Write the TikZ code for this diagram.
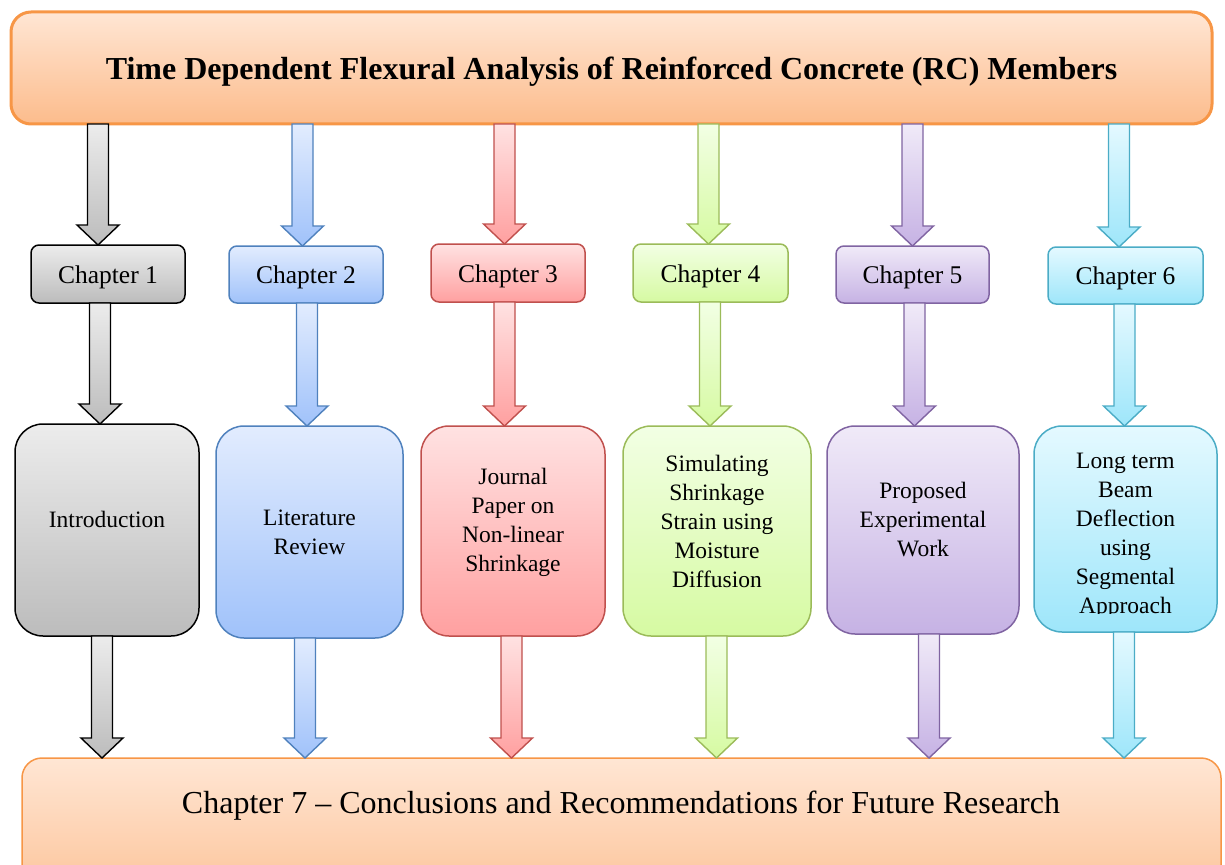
\documentclass[tikz,border=0pt]{standalone}
\usepackage{fontspec}
\setmainfont{Liberation Serif}
\usetikzlibrary{calc}
\definecolor{grayT}{RGB}{236,236,236}\definecolor{grayB}{RGB}{188,188,188}\definecolor{grayD}{RGB}{0,0,0}
\definecolor{blueT}{RGB}{226,236,254}\definecolor{blueB}{RGB}{160,194,250}\definecolor{blueD}{RGB}{79,129,189}
\definecolor{redT}{RGB}{255,226,226}\definecolor{redB}{RGB}{255,160,160}\definecolor{redD}{RGB}{192,80,77}
\definecolor{greenT}{RGB}{242,255,228}\definecolor{greenB}{RGB}{214,250,162}\definecolor{greenD}{RGB}{155,187,89}
\definecolor{purpT}{RGB}{240,234,248}\definecolor{purpB}{RGB}{198,178,228}\definecolor{purpD}{RGB}{128,100,162}
\definecolor{cyanT}{RGB}{228,249,255}\definecolor{cyanB}{RGB}{158,230,250}\definecolor{cyanD}{RGB}{75,172,198}
\definecolor{orT}{RGB}{255,230,212}\definecolor{orB}{RGB}{252,188,140}\definecolor{orD}{RGB}{247,150,70}
\tikzset{
  box/.style={draw, rectangle, anchor=north west, inner sep=0pt, outer sep=0pt, line width=1.5pt},
  chapbox/.style={box, rounded corners=8pt, font=\fontsize{25.5}{30}\selectfont, text height=18pt, text depth=0pt},
  bigbox/.style={box, rounded corners=28pt},
  bigtext/.style={align=center, font=\fontsize{23.5}{29}\selectfont, inner sep=0pt},
  sgray/.style={draw=grayD, top color=grayT, bottom color=grayB},
  sblue/.style={draw=blueD, top color=blueT, bottom color=blueB},
  sred/.style={draw=redD, top color=redT, bottom color=redB},
  sgreen/.style={draw=greenD, top color=greenT, bottom color=greenB},
  spurp/.style={draw=purpD, top color=purpT, bottom color=purpB},
  scyan/.style={draw=cyanD, top color=cyanT, bottom color=cyanB},
  sorange/.style={draw=orD, top color=orT, bottom color=orB},
}
\newcommand{\blockarrow}[4]{%
  \path[#1, line width=1.4pt, line join=miter] let \p1=(#3), \p2=(#4) in
    ({(#2-10.5)*1pt},\y1) -- ({(#2+10.5)*1pt},\y1) -- ({(#2+10.5)*1pt},{\y2+20pt})
    -- ({(#2+21)*1pt},{\y2+20pt}) -- ({#2*1pt},\y2) -- ({(#2-21)*1pt},{\y2+20pt})
    -- ({(#2-10.5)*1pt},{\y2+20pt}) -- cycle;}
\begin{document}
\begin{tikzpicture}[x=1pt,y=1pt]
\useasboundingbox (0,0) rectangle (1225,-864);
% title
\node[box, sorange, line width=3pt, rounded corners=20pt, minimum width=1201pt, minimum height=112pt,
  font=\fontsize{32}{38}\selectfont\bfseries] (title) at (11,-12)
  {\raisebox{-4pt}[\height][\depth]{Time Dependent Flexural Analysis of Reinforced Concrete (RC) Members}};
% bottom box
\node[box, sorange, rounded corners=20pt, minimum width=1199pt, minimum height=170pt] (bottom) at (22,-758) {};
\node[font=\fontsize{32}{38}\selectfont, inner sep=0pt] (bottomtext) at (621,-806)
  {Chapter 7 – Conclusions and Recommendations for Future Research};
% chapter boxes
\node[chapbox, sgray,  minimum width=154pt, minimum height=58pt] (c1) at (31,-245) {Chapter 1};
\node[chapbox, sblue,  minimum width=154pt, minimum height=57pt] (c2) at (229,-246) {Chapter 2};
\node[chapbox, sred,   minimum width=154pt, minimum height=58pt] (c3) at (431,-244) {Chapter 3};
\node[chapbox, sgreen, minimum width=155pt, minimum height=58pt] (c4) at (633,-244) {Chapter 4};
\node[chapbox, spurp,  minimum width=153pt, minimum height=57pt] (c5) at (836,-246) {Chapter 5};
\node[chapbox, scyan,  minimum width=155pt, minimum height=57pt] (c6) at (1048,-247) {Chapter 6};
% big boxes
\node[bigbox, sgray,  minimum width=184pt, minimum height=212pt] (b1) at (15,-424) {};
\node[bigbox, sblue,  minimum width=187pt, minimum height=212pt] (b2) at (216,-426) {};
\node[bigbox, sred,   minimum width=184pt, minimum height=210pt] (b3) at (421,-426) {};
\node[bigbox, sgreen, minimum width=188pt, minimum height=210pt] (b4) at (623,-426) {};
\node[bigbox, spurp,  minimum width=192pt, minimum height=208pt] (b5) at (827,-426) {};
\node[bigbox, scyan,  minimum width=183pt, minimum height=206pt] (b6) at (1034,-426) {};
\node[bigtext] (t1) at ([yshift=11pt]b1.center) {Introduction};
\node[bigtext] (t2) at ([yshift=0pt]b2.center) {Literature\\Review};
\node[bigtext] (t3) at ([yshift=9pt]b3.center) {Journal\\Paper on\\Non-linear\\Shrinkage};
\node[bigtext] (t4) at ([yshift=10pt]b4.center) {Simulating\\Shrinkage\\Strain using\\Moisture\\Diffusion};
\node[bigtext] (t5) at ([yshift=10pt]b5.center) {Proposed\\Experimental\\Work};
\begin{scope}
  \clip (1034,-426) rectangle (1217,-613);
  \node[bigtext] (t6) at ([yshift=-7pt]b6.center) {Long term\\Beam\\Deflection\\using\\Segmental\\Approach};
\end{scope}
% arrows: title -> chapters
\blockarrow{sgray}{98}{title.south}{c1.north}
\blockarrow{sblue}{302.5}{title.south}{c2.north}
\blockarrow{sred}{504.5}{title.south}{c3.north}
\blockarrow{sgreen}{708.5}{title.south}{c4.north}
\blockarrow{spurp}{912.5}{title.south}{c5.north}
\blockarrow{scyan}{1119}{title.south}{c6.north}
% chapters -> big boxes
\blockarrow{sgray}{100}{c1.south}{b1.north}
\blockarrow{sblue}{307}{c2.south}{b2.north}
\blockarrow{sred}{504.5}{c3.south}{b3.north}
\blockarrow{sgreen}{710}{c4.south}{b4.north}
\blockarrow{spurp}{914.5}{c5.south}{b5.north}
\blockarrow{scyan}{1124.5}{c6.south}{b6.north}
% big boxes -> bottom
\blockarrow{sgray}{102}{b1.south}{bottom.north}
\blockarrow{sblue}{305}{b2.south}{bottom.north}
\blockarrow{sred}{511.5}{b3.south}{bottom.north}
\blockarrow{sgreen}{716.5}{b4.south}{bottom.north}
\blockarrow{spurp}{929}{b5.south}{bottom.north}
\blockarrow{scyan}{1124}{b6.south}{bottom.north}
\end{tikzpicture}
\end{document}
